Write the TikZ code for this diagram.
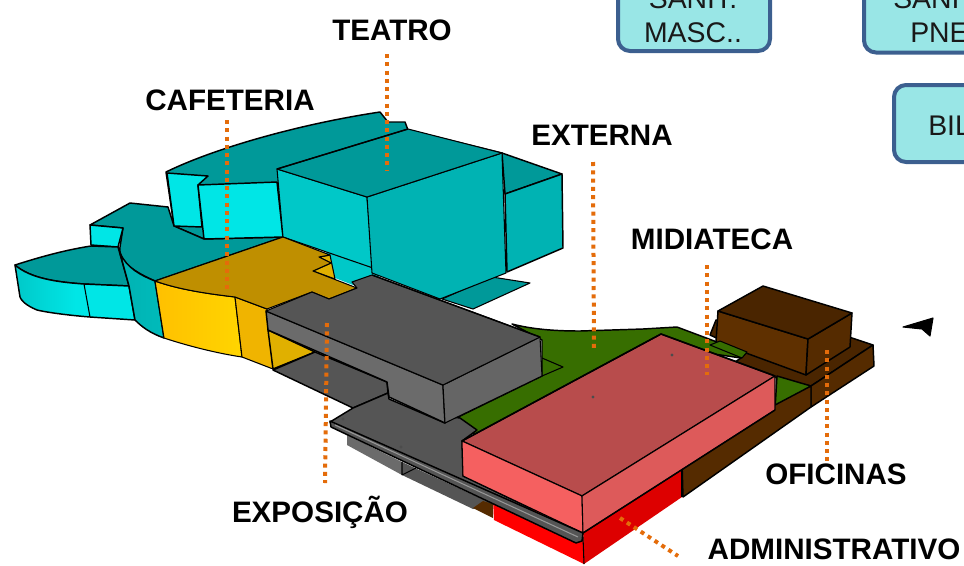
\documentclass[tikz,border=0pt]{standalone}
\usepackage{fontspec}
\setmainfont{Liberation Sans}
\definecolor{tealroof}{HTML}{009999}
\definecolor{tealfront}{HTML}{00B3B3}
\definecolor{tealside}{HTML}{00C8C8}
\definecolor{cyanwall}{HTML}{00E6E6}
\definecolor{goldroof}{HTML}{BF8F00}
\definecolor{yellowin}{HTML}{E0B000}
\definecolor{yellowmid}{HTML}{F0B400}
\definecolor{yellowa}{HTML}{FFC000}
\definecolor{yellowb}{HTML}{FFD500}
\definecolor{greytop}{HTML}{555555}
\definecolor{greyface}{HTML}{6B6B6B}
\definecolor{greyside}{HTML}{656565}
\definecolor{grass}{HTML}{376E00}
\definecolor{pinktop}{HTML}{B84C4C}
\definecolor{pinkleft}{HTML}{F56060}
\definecolor{pinkright}{HTML}{DD5A5A}
\definecolor{redleft}{HTML}{FF0000}
\definecolor{redright}{HTML}{DD0000}
\definecolor{browntop}{HTML}{4A2500}
\definecolor{brownleft}{HTML}{5F3000}
\definecolor{brownside}{HTML}{552B00}
\definecolor{leader}{HTML}{E46C0A}
\definecolor{boxfill}{HTML}{99E6E6}
\definecolor{boxline}{HTML}{3C5F8F}
\tikzset{
  solid3d/.style={draw=black,line width=1.1pt,line join=round},
  fine3d/.style={draw=black,line width=0.8pt,line join=round},
  leaderline/.style={draw=leader,line width=3pt,dash pattern=on 3pt off 3.2pt},
  zonelabel/.style={font=\fontsize{22.2}{24}\selectfont\bfseries,text=black,inner sep=0pt},
  tagbox/.style={draw=boxline,fill=boxfill,line width=3pt,rounded corners=9pt,inner sep=0pt},
  tagtext/.style={font=\fontsize{21.3}{24}\selectfont,text=black!90,inner sep=0pt},
  speck/.style={fill=black!70,draw=none,circle,minimum size=2.5pt,inner sep=0pt}
}
\begin{document}
\begin{tikzpicture}[x=0.75pt,y=-0.75pt]
\useasboundingbox (0,0) rectangle (964,565);
\begin{scope}
\clip (0,0) rectangle (964,565);
% tag boxes
\node[tagbox,minimum width=114pt,minimum height=60.75pt] (box1) at (694,10.5) {};
\node[tagbox,minimum width=112pt,minimum height=60.75pt,anchor=west] (box2) at (862,12) {};
\node[tagbox,minimum width=112pt,minimum height=57.75pt,anchor=west] (box3) at (892,123.5) {};
\node[tagtext,anchor=base] (t1a) at (693,8) {SANIT.};
\node[tagtext,anchor=base] (t1b) at (693,42) {MASC..};
\node[tagtext,anchor=base west] (t2a) at (893,8) {SANI};
\node[tagtext,anchor=base west] (t2b) at (910,42) {PNE};
\node[tagtext,anchor=base west] (t3) at (928,135) {BIL};
% back roof
\path[solid3d,fill=tealroof] (166,172) .. controls (215,148) and (300,124) .. (380,112) -- (388,122) -- (405,122) -- (408,130) -- (502,153) -- (367,197) -- (283,237) -- (204,239) -- (174,226) -- cycle;
% middle roof
\path[solid3d,fill=tealroof] (90,225) -- (130,203) -- (168,207) -- (174,226) -- (204,239) -- (283,237) -- (155,281) .. controls (135,272) and (118,262) .. (120,247) -- (123,228) -- cycle;
% cyan walls
\path[solid3d,fill=cyanwall] (167,173) -- (208,176) -- (198,185) -- (202,227) -- (174,226) -- cycle;
\path[solid3d,fill=cyanwall] (198,185) -- (277,182) -- (283,237) -- (204,239) -- cycle;
\path[solid3d,fill=cyanwall] (90,225) -- (91,245) -- (118,247) -- (123,228) -- cycle;
% left lobe
\path[solid3d,fill=tealroof] (15,265) .. controls (40,257) and (65,250) .. (91,246) -- (118,247) -- (129,286) -- (84,284) .. controls (55,282) and (30,278) .. (15,265) -- cycle;
\path[solid3d,left color=tealside,right color=cyanwall,middle color=cyanwall] (15,265) .. controls (30,278) and (55,282) .. (84,284) -- (129,286) -- (135,320) -- (90,317) .. controls (65,315) and (45,312) .. (37,310) .. controls (25,305) and (21,300) .. (20,297) -- cycle;
\draw[fine3d] (84,284) -- (90,317);
\path[solid3d,left color=tealfront,right color=tealfront!85!cyanwall] (120,253) .. controls (127,268) and (140,275) .. (155,281) -- (164,338) .. controls (150,333) and (142,327) .. (135,320) -- (129,286) -- cycle;
% main teal box
\path[fill=tealside] (325,250) -- (375,262) -- (380,280) -- (353,285) -- (335,278) -- cycle;
\path[fine3d,fill=tealroof] (442,299) -- (492,277) -- (530,283) -- (473,309) -- cycle;
\path[solid3d,fill=tealroof] (502,153) -- (562,174) -- (505,194) -- cycle;
\path[solid3d,fill=tealfront] (505,194) -- (562,174) -- (563,248) -- (507,272) -- cycle;
\path[fine3d,fill=tealside] (277,169) -- (367,197) -- (373,268) -- (283,237) -- cycle;
\path[fine3d,fill=tealfront] (367,197) -- (502,153) -- (506,273) -- (440,299) -- (372,273) -- cycle;
\path[fine3d,fill=tealroof] (277,169) -- (408,129) -- (502,153) -- (367,197) -- cycle;
\draw[solid3d] (277,169) -- (408,129);
% yellow cafeteria
\path[fine3d,left color=yellowa,right color=yellowb] (155,281) .. controls (180,290) and (210,294) .. (235,297) -- (242,357) .. controls (215,353) and (185,345) .. (164,338) -- cycle;
\path[fine3d,fill=yellowmid] (235,297) -- (267,309) -- (273,369) -- (242,357) -- cycle;
\path[fine3d,fill=yellowin] (330,255) -- (335,279) -- (313,271) -- (331,263) -- (319,257) -- cycle;
\path[fine3d,fill=goldroof] (155,281) -- (283,237) -- (330,255) -- (319,257) -- (331,263) -- (313,271) -- (357,288) -- (329,299) -- (312,292) -- (267,309) -- (235,297) .. controls (210,294) and (180,290) .. (155,281) -- cycle;
% green ground
\path[solid3d,fill=grass] (512,324) .. controls (535,330) and (560,331) .. (580,331) -- (643,329) -- (677,327) -- (717,342) -- (747,352) -- (741,358) -- (700,352) -- (600,410) -- (477,436) -- (452,420) -- (542,376) -- (542,340) -- cycle;
\draw[fine3d] (542,358) -- (563,367) -- (542,376);
% brown base and box
\path[solid3d,fill=browntop] (710,335) -- (747,352) -- (741,358) -- (735,362) -- (777,378) -- (811,386) -- (873,345) -- (852,338) -- (716,320) -- cycle;
\path[solid3d,fill=grass] (777,376) -- (811,386) -- (775,409) -- cycle;
\path[solid3d,fill=brownside] (811,386) -- (873,345) -- (874,366) -- (811,407) -- cycle;
\path[solid3d,fill=brownside] (775,405) -- (811,386) -- (811,407) -- (683,497) -- (682,462) -- cycle;
\path[solid3d,fill=brownleft] (718,311) -- (808,339) -- (806,375) -- (716,342) -- cycle;
\path[solid3d,fill=brownside] (808,339) -- (852,313) -- (850,347) -- (806,375) -- cycle;
\path[solid3d,fill=browntop] (718,311) -- (763,286) -- (852,313) -- (808,339) -- cycle;
\path[fill=grass,fine3d] (710,345) -- (720,341) -- (747,352) -- (742,358) -- cycle;
% grey floor under bridge
\path[solid3d,fill=yellowin] (268,330) -- (315,352) -- (273,369) -- cycle;
\path[solid3d,fill=greytop] (273,370) -- (315,352) -- (387,382) -- (388,393) -- (353,408) -- cycle;
% lower storey
\path[fill=greyface] (347,435) -- (347,445) -- (402,475) -- (402,462) -- cycle;
\path[fill=greytop] (402,462) -- (402,475) -- (473,509) -- (495,505) -- cycle;
\draw[fine3d] (402,462) -- (402,475) (402,475) -- (416,468);
\path[fill=brownside] (473,508) -- (483,501) -- (493,504) -- (493,518) -- cycle;
\path[solid3d,fill=greytop] (330,422) -- (353,408) -- (388,393) -- (389,399) -- (445,423) -- (445,416) -- (460,418) -- (477,430) -- (462,441) -- (463,476) -- (582,533) -- (582,540) -- cycle;
% grey bridge block
\path[solid3d,fill=greyface] (266,311) -- (443,385) -- (445,423) -- (389,397) -- (387,382) -- (268,330) -- cycle;
\path[fine3d,fill=greyside] (443,385) -- (540,337) -- (542,376) -- (445,423) -- cycle;
\path[fine3d,fill=greytop] (266,311) -- (312,292) -- (329,299) -- (357,288) -- (352,282) -- (372,275) -- (540,337) -- (443,385) -- cycle;
\draw[solid3d] (372,275) -- (540,337);
% red base
\path[fill=redleft] (493,498) -- (583,525) -- (584,564) -- (494,520) -- cycle;
\path[fill=redright] (583,525) -- (682,462) -- (682,497) -- (584,564) -- cycle;
\draw[fine3d] (583,537) -- (584,564);
\draw[fine3d] (682,470) -- (682,497);
% pink block
\path[solid3d,fill=pinktop] (661,334) -- (775,376) -- (582,496) -- (462,441) -- cycle;
\path[fine3d,fill=pinkleft] (462,441) -- (582,496) -- (583,533) -- (463,476) -- cycle;
\path[fine3d,fill=pinkright] (582,496) -- (775,376) -- (775,410) -- (583,533) -- cycle;
\draw[solid3d] (462,441) -- (661,334) -- (775,376);
\draw[solid3d] (583,533) -- (775,410);
% rail
\path[solid3d,fill=greytop] (330,421) -- (583,533) -- (582,541) -- (576,543) -- (331,427) -- cycle;
\draw[draw=greyface!70!white,line width=0.8pt] (335,425) -- (578,537);
% specks
\node[speck] (s1) at (672,355) {};
\node[speck] (s2) at (593,397) {};
\node[speck] (s3) at (401,447) {};
\node[speck] (s4) at (343,419) {};
% black mark
\path[fill=black,draw=black,line width=0.8pt,line join=round] (903,327) -- (933,318) -- (930,336) -- (922,329) -- cycle;
% labels
\node[zonelabel] (teatro) at (392,30) {TEATRO};
\node[zonelabel] (cafe) at (230,100) {CAFETERIA};
\node[zonelabel] (externa) at (602,135) {EXTERNA};
\node[zonelabel] (midia) at (712,239) {MIDIATECA};
\node[zonelabel] (ofic) at (836,474) {OFICINAS};
\node[zonelabel] (expo) at (320,512) {EXPOSIÇÃO};
\node[zonelabel] (admin) at (834,549) {ADMINISTRATIVO};
% leaders
\coordinate (a1) at (387,54); \coordinate (a2) at (387,170);
\coordinate (b1) at (227,120); \coordinate (b2) at (227,290);
\coordinate (c1) at (593,162); \coordinate (c2) at (594,350);
\coordinate (d1) at (707,265); \coordinate (d2) at (707,375);
\coordinate (e1) at (827,350); \coordinate (e2) at (827,465);
\coordinate (f1) at (327,323); \coordinate (f2) at (325,483);
\coordinate (g1) at (620,518); \coordinate (g2) at (678,556);
\draw[leaderline] (a1) -- (a2);
\draw[leaderline] (b1) -- (b2);
\draw[leaderline] (c1) -- (c2);
\draw[leaderline] (d1) -- (d2);
\draw[leaderline] (e1) -- (e2);
\draw[leaderline] (f1) -- (f2);
\draw[leaderline] (g1) -- (g2);
\end{scope}
\end{tikzpicture}
\end{document}
